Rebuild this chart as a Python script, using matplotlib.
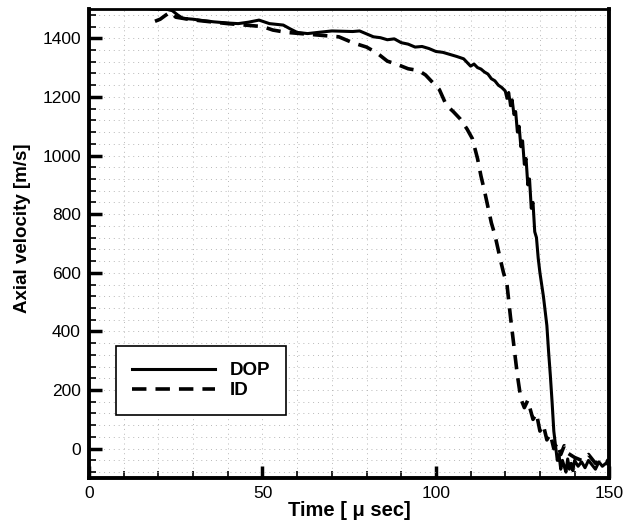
import matplotlib
matplotlib.use("Agg")
import matplotlib.pyplot as plt
from matplotlib.ticker import MultipleLocator

# ---------------------------------------------------------------------
# data: (time [us], velocity [m/s])
dop_points = [
    (15, 1505), (18, 1500), (20, 1498), (22, 1500), (24, 1494),
    (25.5, 1480), (27, 1468), (30, 1465), (33, 1460), (36, 1456),
    (40, 1452), (43, 1450), (46, 1455), (49, 1462), (52, 1450),
    (56, 1445), (58, 1432), (60, 1420), (63, 1416), (66, 1420),
    (70, 1425), (73, 1424), (76, 1423), (78, 1425), (80, 1415),
    (82, 1405), (84, 1402), (86, 1395), (88, 1398), (90, 1385),
    (92, 1380), (94, 1370), (96, 1372), (98, 1365), (100, 1355),
    (102, 1352), (104, 1345), (106, 1338), (108, 1330), (110, 1305),
    (111, 1312), (112, 1300), (113, 1295), (114, 1285), (115, 1278),
    (116, 1262), (117, 1255), (118, 1240), (119, 1232), (120, 1220),
    (120.5, 1195), (121, 1215), (121.5, 1170), (122, 1190), (122.5, 1140),
    (123, 1150), (123.5, 1080), (124, 1100), (124.5, 1030), (125, 1050),
    (125.5, 970), (126, 990), (126.5, 900), (127, 920), (127.5, 820),
    (128, 840), (128.5, 740), (129, 720), (129.5, 650), (130, 600),
    (131, 520), (132, 420), (132.5, 330), (133, 250), (133.5, 160),
    (134, 60), (134.5, 10), (135, -40), (135.5, -20), (136, -70),
    (136.5, -40), (137, -60), (137.5, -80), (138, -35), (138.5, -70),
    (139, -50), (139.5, -75), (140, -40), (141, -60), (142, -45),
    (143, -65), (144, -40), (145, -55), (146, -70), (147, -45),
    (148, -60), (149, -50), (150, -55),
]
id_points = [
    (19, 1458), (20.5, 1465), (22, 1478), (23.5, 1490), (25, 1472),
    (28, 1466), (32, 1460), (36, 1455), (40, 1450), (45, 1445),
    (50, 1440), (53, 1428), (57, 1420), (62, 1415), (67, 1410),
    (72, 1405), (76, 1385), (80, 1370), (83, 1350), (86, 1322),
    (89, 1310), (92, 1296), (95, 1290), (97, 1275), (99, 1250),
    (101, 1225), (103, 1172), (105, 1150), (107, 1125), (109, 1090),
    (110.5, 1058), (112, 990), (113, 930), (114, 880), (115, 825),
    (116, 770), (117, 730), (118.5, 650), (119.5, 600), (120.5, 560),
    (121.5, 450), (122.5, 350), (123.5, 250), (124.5, 170), (125.5, 140),
    (126.5, 165), (128, 100), (129, 120), (130, 60), (131, 80),
    (132, 30), (133, 50), (134, 0), (135, 20), (136, -20),
    (137, 10), (138, -15), (140, -30), (142, -40), (144, -20),
    (146, -50), (148, -35), (150, -45),
]

x_ticks = [0, 50, 100, 150]
y_ticks = [0, 200, 400, 600, 800, 1000, 1200, 1400]

dop_t, dop_v = zip(*dop_points)
id_t, id_v = zip(*id_points)

# ---------------------------------------------------------------------
plt.rcParams["font.family"] = ["Liberation Sans", "DejaVu Sans"]

fig = plt.figure(figsize=(6.23, 5.27), dpi=100)
ax = fig.add_axes([0.143, 0.093, 0.835, 0.890])

ax.plot(dop_t, dop_v, color="black", lw=2.2, label="DOP", zorder=3)
ax.plot(id_t, id_v, color="black", lw=2.6, ls=(0, (4, 2.5)),
        label="ID", zorder=3)

ax.set_xlim(0, 150)
ax.set_ylim(-100, 1500)
ax.set_xticks(x_ticks)
ax.set_yticks(y_ticks)
ax.xaxis.set_minor_locator(MultipleLocator(10))
ax.yaxis.set_minor_locator(MultipleLocator(40))

ax.tick_params(which="major", direction="in", length=9, width=2.5,
               labelsize=12.5, pad=6)
ax.tick_params(which="minor", direction="in", length=5, width=1.2)
ax.tick_params(top=False, right=False, which="both")

ax.grid(which="both", color="#b8b8b8", ls=(0, (1, 4)), lw=0.7, zorder=0)

for side in ["left", "bottom", "right"]:
    ax.spines[side].set_linewidth(2.8)
ax.spines["top"].set_linewidth(2.0)

ax.set_xlabel("Time [ \u03bc sec]", fontsize=14.5, fontweight="heavy",
              labelpad=0)
ax.set_ylabel("Axial velocity [m/s]", fontsize=13.5, fontweight="heavy")
ax.yaxis.set_label_coords(-0.112, 0.533)

leg = ax.legend(loc="lower left", bbox_to_anchor=(0.052, 0.134),
                borderaxespad=0,
                prop={"weight": "bold", "size": 13.5}, fancybox=False,
                framealpha=1, edgecolor="black", handlelength=4.4,
                borderpad=0.85, labelspacing=0.15, handletextpad=0.8)
leg.get_frame().set_linewidth(1.2)

fig.savefig("out.png", dpi=100)
